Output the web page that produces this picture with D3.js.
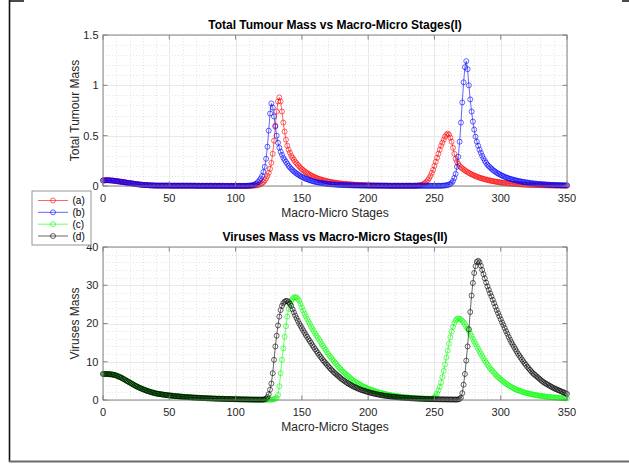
<!DOCTYPE html>
<html>
<head>
<meta charset="utf-8">
<script src="https://cdn.jsdelivr.net/npm/d3@7"></script>
<style>
  html, body { margin: 0; padding: 0; background: #fff; }
  svg { display: block; }
  text { font-family: "Liberation Sans", Arial, Helvetica, sans-serif; }
</style>
</head>
<body>
<div id="chart"></div>
<script>
// Stage values are listed from stage 0 to stage 350, one per stage
const xTicks = [0, 50, 100, 150, 200, 250, 300, 350];
const yTicksTop = [0, 0.5, 1, 1.5];
const yTicksBottom = [0, 10, 20, 30, 40];
const legendLabels = ["(a)", "(b)", "(c)", "(d)"];

// (a) total tumour mass
const tumourA = [
  .055,.056,.057,.057,.057,.056,.055,.054,.053,.051,
  .049,.047,.045,.043,.041,.039,.037,.035,.033,.031,
  .029,.027,.025,.023,.021,.019,.017,.016,.014,.013,
  .012,.011,.010,.009,.008,.007,.006,.006,.005,.005,
  .004,.004,.004,.004,.004,.004,.004,.004,.004,.004,
  .004,.003,.003,.003,.003,.003,.003,.003,.003,.003,
  .003,.003,.003,.003,.003,.003,.003,.003,.003,.003,
  .002,.002,.002,.002,.002,.002,.002,.002,.002,.002,
  .002,.002,.002,.002,.002,.002,.002,.002,.002,.002,
  .001,.001,.001,.001,.001,.001,.001,.001,.001,.001,
  .001,.001,.001,.001,.001,.001,.001,.001,.001,.001,
  .001,.002,.002,.003,.004,.005,.007,.010,.014,.020,
  .028,.040,.055,.075,.10,.13,.17,.23,.32,.45,
  .60,.74,.84,.88,.84,.74,.63,.54,.46,.40,
  .36,.33,.30,.28,.26,.24,.225,.21,.195,.18,
  .168,.157,.147,.137,.128,.12,.112,.105,.098,.092,
  .086,.080,.075,.070,.066,.062,.058,.054,.051,.048,
  .045,.042,.039,.037,.035,.033,.031,.029,.027,.025,
  .024,.022,.021,.020,.019,.018,.017,.016,.015,.014,
  .013,.012,.011,.011,.010,.010,.009,.009,.008,.008,
  .007,.007,.007,.006,.006,.006,.005,.005,.005,.005,
  .004,.004,.004,.004,.004,.003,.003,.003,.003,.003,
  .003,.003,.003,.003,.003,.003,.003,.003,.003,.003,
  .003,.003,.003,.003,.003,.003,.004,.005,.006,.008,
  .011,.015,.020,.030,.042,.058,.078,.10,.13,.16,
  .20,.24,.28,.32,.36,.40,.43,.46,.49,.51,
  .52,.51,.48,.44,.38,.32,.27,.24,.22,.20,
  .185,.175,.165,.155,.146,.138,.13,.123,.116,.11,
  .104,.098,.093,.088,.083,.079,.075,.071,.067,.063,
  .06,.057,.054,.051,.048,.046,.043,.041,.039,.037,
  .035,.033,.031,.03,.028,.027,.025,.024,.023,.022,
  .021,.02,.019,.018,.017,.016,.015,.014,.014,.013,
  .012,.012,.011,.011,.01,.01,.009,.009,.008,.008,
  .008,.007,.007,.007,.006,.006,.006,.005,.005,.005,
  .005,.004,.004,.004,.004,.004,.003,.003,.003,.003,
  .003
];

// (b) total tumour mass
const tumourB = [
  .055,.056,.057,.057,.057,.056,.055,.054,.053,.051,
  .049,.047,.045,.043,.041,.039,.037,.035,.033,.031,
  .029,.027,.025,.023,.021,.019,.017,.016,.014,.013,
  .012,.011,.010,.009,.008,.007,.006,.006,.005,.005,
  .004,.004,.004,.004,.004,.004,.004,.004,.004,.004,
  .004,.003,.003,.003,.003,.003,.003,.003,.003,.003,
  .003,.003,.003,.003,.003,.003,.003,.003,.003,.003,
  .002,.002,.002,.002,.002,.002,.002,.002,.002,.002,
  .002,.002,.002,.002,.002,.002,.002,.002,.002,.002,
  .001,.001,.001,.001,.001,.001,.001,.001,.001,.001,
  .001,.001,.001,.001,.001,.001,.001,.001,.001,.002,
  .003,.004,.006,.009,.013,.019,.027,.04,.055,.075,
  .10,.14,.19,.27,.39,.55,.72,.82,.78,.69,
  .59,.50,.43,.38,.34,.31,.28,.26,.24,.22,
  .20,.185,.17,.157,.145,.134,.124,.115,.106,.098,
  .091,.084,.078,.072,.067,.062,.057,.053,.049,.045,
  .042,.039,.036,.033,.031,.029,.027,.025,.023,.021,
  .02,.018,.017,.016,.015,.014,.013,.012,.011,.01,
  .01,.009,.009,.008,.008,.007,.007,.006,.006,.006,
  .005,.005,.005,.005,.004,.004,.004,.004,.004,.003,
  .003,.003,.003,.003,.003,.003,.003,.003,.003,.003,
  .003,.003,.003,.003,.003,.003,.002,.002,.002,.002,
  .002,.002,.002,.002,.002,.002,.002,.002,.002,.002,
  .002,.002,.002,.002,.002,.002,.002,.002,.002,.002,
  .002,.002,.002,.002,.002,.002,.002,.002,.002,.002,
  .002,.002,.002,.002,.002,.002,.003,.004,.005,.007,
  .01,.014,.02,.03,.05,.08,.12,.19,.29,.44,
  .63,.83,1.03,1.18,1.24,1.16,1.0,.86,.74,.64,
  .56,.49,.44,.40,.36,.33,.30,.275,.25,.23,
  .21,.198,.185,.172,.16,.15,.141,.132,.124,.117,
  .11,.103,.097,.091,.086,.081,.076,.072,.068,.064,
  .06,.057,.054,.051,.048,.045,.043,.04,.038,.036,
  .034,.032,.03,.028,.027,.025,.024,.022,.021,.02,
  .019,.018,.017,.016,.015,.014,.013,.012,.012,.011,
  .01,.01,.009,.009,.008,.008,.007,.007,.007,.006,
  .006
];

// (c) viruses mass
const virusC = [
  6.8,6.8,6.8,6.8,6.8,6.75,6.7,6.65,6.6,6.5,
  6.4,6.25,6.1,5.95,5.8,5.6,5.4,5.2,5.0,4.8,
  4.6,4.4,4.2,4.0,3.8,3.62,3.45,3.28,3.12,2.97,
  2.83,2.69,2.56,2.43,2.31,2.2,2.09,1.99,1.89,1.8,
  1.71,1.65,1.59,1.53,1.48,1.43,1.38,1.33,1.28,1.24,
  1.2,1.16,1.12,1.08,1.04,1.0,0.97,0.94,0.91,0.88,
  0.85,0.82,0.79,0.77,0.74,0.72,0.7,0.67,0.65,0.63,
  0.61,0.59,0.57,0.55,0.53,0.51,0.5,0.48,0.46,0.45,
  0.43,0.42,0.4,0.39,0.38,0.36,0.35,0.34,0.33,0.32,
  0.31,0.3,0.29,0.28,0.27,0.26,0.25,0.24,0.23,0.22,
  0.21,0.2,0.19,0.18,0.17,0.17,0.16,0.15,0.14,0.14,
  0.13,0.12,0.12,0.11,0.11,0.1,0.1,0.1,0.09,0.09,
  0.09,0.09,0.08,0.08,0.08,0.08,0.09,0.1,0.13,0.2,
  0.35,0.6,1.3,3.6,7.0,10.5,13.5,16.5,19.3,21.8,
  23.8,25.0,25.9,26.5,26.8,26.9,26.8,26.4,25.9,25.1,
  24.2,23.4,22.6,21.9,21.2,20.5,19.9,19.2,18.6,18.0,
  17.4,16.8,16.3,15.8,15.2,14.6,14.1,13.6,13.1,12.5,
  12.0,11.5,11.1,10.6,10.2,9.8,9.4,8.9,8.5,8.2,
  7.8,7.4,7.1,6.8,6.5,6.2,5.9,5.6,5.3,5.0,
  4.8,4.6,4.4,4.2,4.0,3.75,3.55,3.4,3.25,3.1,
  2.95,2.8,2.65,2.55,2.45,2.3,2.2,2.1,2.0,1.9,
  1.8,1.72,1.64,1.56,1.48,1.4,1.33,1.26,1.2,1.14,
  1.08,1.03,0.98,0.93,0.88,0.84,0.8,0.76,0.72,0.68,
  0.65,0.62,0.59,0.56,0.53,0.5,0.48,0.46,0.44,0.42,
  0.4,0.38,0.36,0.35,0.34,0.33,0.32,0.32,0.33,0.45,
  0.7,1.1,1.7,2.5,3.4,4.6,6.0,7.6,9.3,11.1,
  12.9,14.7,16.4,17.9,19.1,20.1,20.8,21.2,21.3,21.2,
  21.0,20.7,20.3,19.8,19.2,18.6,18.0,17.3,16.7,16.0,
  15.3,14.7,14.0,13.4,12.7,12.1,11.5,10.9,10.3,9.8,
  9.3,8.8,8.3,7.9,7.5,7.1,6.7,6.3,6.0,5.7,
  5.4,5.1,4.8,4.55,4.3,4.05,3.8,3.6,3.4,3.2,
  3.0,2.85,2.7,2.55,2.42,2.3,2.18,2.07,1.96,1.86,
  1.77,1.68,1.6,1.52,1.45,1.38,1.31,1.25,1.19,1.13,
  1.08,1.03,0.98,0.93,0.89,0.85,0.81,0.77,0.73,0.7,
  0.67,0.64,0.61,0.58,0.55,0.53,0.5,0.48,0.46,0.44,
  0.42
];

// (d) viruses mass
const virusD = [
  6.8,6.8,6.8,6.8,6.8,6.75,6.7,6.65,6.6,6.5,
  6.4,6.25,6.1,5.95,5.8,5.6,5.4,5.2,5.0,4.8,
  4.6,4.4,4.2,4.0,3.8,3.62,3.45,3.28,3.12,2.97,
  2.83,2.69,2.56,2.43,2.31,2.2,2.09,1.99,1.89,1.8,
  1.71,1.65,1.59,1.53,1.48,1.43,1.38,1.33,1.28,1.24,
  1.2,1.16,1.12,1.08,1.04,1.0,0.97,0.94,0.91,0.88,
  0.85,0.82,0.79,0.77,0.74,0.72,0.7,0.67,0.65,0.63,
  0.61,0.59,0.57,0.55,0.53,0.51,0.5,0.48,0.46,0.45,
  0.43,0.42,0.4,0.39,0.38,0.36,0.35,0.34,0.33,0.32,
  0.31,0.3,0.29,0.28,0.27,0.26,0.25,0.24,0.23,0.22,
  0.21,0.2,0.19,0.18,0.17,0.17,0.16,0.15,0.14,0.14,
  0.13,0.12,0.12,0.11,0.11,0.1,0.1,0.1,0.09,0.09,
  0.1,0.12,0.18,0.35,0.75,1.5,2.7,4.3,7.0,10.5,
  14,16.8,19.5,21.8,23.5,24.6,25.3,25.7,25.9,25.9,
  25.6,25.2,24.6,23.7,22.9,22.1,21.4,20.7,20.0,19.4,
  18.8,18.2,17.6,17.0,16.5,15.9,15.4,14.9,14.3,13.8,
  13.3,12.8,12.3,11.8,11.3,10.9,10.4,10.0,9.6,9.2,
  8.8,8.4,8.0,7.7,7.3,7.0,6.7,6.4,6.1,5.8,
  5.5,5.25,5.0,4.75,4.5,4.3,4.1,3.9,3.7,3.5,
  3.35,3.2,3.05,2.9,2.75,2.6,2.5,2.4,2.28,2.17,
  2.07,1.97,1.88,1.79,1.7,1.62,1.54,1.47,1.4,1.33,
  1.27,1.21,1.15,1.1,1.05,1.0,0.95,0.91,0.87,0.83,
  0.79,0.75,0.72,0.69,0.66,0.63,0.6,0.57,0.55,0.52,
  0.5,0.48,0.46,0.44,0.42,0.4,0.38,0.37,0.35,0.34,
  0.32,0.31,0.3,0.28,0.27,0.26,0.25,0.24,0.23,0.22,
  0.21,0.2,0.19,0.19,0.18,0.17,0.17,0.16,0.15,0.15,
  0.14,0.14,0.13,0.13,0.12,0.12,0.12,0.11,0.15,0.3,
  0.6,1.8,4.0,6.8,10.3,14,18.5,23,27.3,30.6,
  33.2,35.0,36.1,36.4,36.0,35.1,34.0,32.9,31.8,30.7,
  29.7,28.8,27.9,27.1,26.2,25.3,24.4,23.5,22.7,21.9,
  21.1,20.3,19.6,18.8,18.0,17.3,16.5,15.8,15.1,14.5,
  13.9,13.3,12.7,12.1,11.6,11.1,10.6,10.1,9.6,9.2,
  8.7,8.3,7.9,7.5,7.1,6.8,6.5,6.2,5.9,5.6,
  5.3,5.0,4.75,4.5,4.3,4.1,3.9,3.7,3.5,3.3,
  3.1,2.95,2.8,2.65,2.5,2.35,2.2,2.05,1.9,1.75,
  1.6
];

const width = 629, height = 464;
const svg = d3.select("#chart").append("svg")
    .attr("width", width)
    .attr("height", height);

// outer frame of the figure window
svg.append("path")
    .attr("d", "M9.5,462V0M9,1H24M622,1H629")
    .attr("fill", "none")
    .attr("stroke", "#111")
    .attr("stroke-width", 1.6);
svg.append("line")
    .attr("x1", 9).attr("x2", 629).attr("y1", 461.5).attr("y2", 461.5)
    .attr("stroke", "#6b6b6b").attr("stroke-width", 2);

const x = d3.scaleLinear().domain([0, 350]).range([103, 567]);

function drawPanel(p) {
    const y = d3.scaleLinear().domain(p.yDomain).range([p.bottom, p.top]);
    const g = svg.append("g");

    // minor grid (dotted)
    const xMinor = d3.range(0, 351, 10).filter(v => v % 50 !== 0);
    const yMinor = d3.range(p.yDomain[0], p.yDomain[1] + 1e-9, p.minor)
        .filter(v => !p.yTicks.some(t => Math.abs(t - v) < 1e-9));
    g.selectAll(".xminor").data(xMinor).join("line")
        .attr("x1", d => Math.round(x(d)) + 0.5).attr("x2", d => Math.round(x(d)) + 0.5)
        .attr("y1", p.top).attr("y2", p.bottom)
        .attr("stroke", "#d4d4d4").attr("stroke-width", 0.6).attr("stroke-dasharray", "1,2");
    g.selectAll(".yminor").data(yMinor).join("line")
        .attr("x1", x(0)).attr("x2", x(350))
        .attr("y1", d => Math.round(y(d)) + 0.5).attr("y2", d => Math.round(y(d)) + 0.5)
        .attr("stroke", "#d4d4d4").attr("stroke-width", 0.6).attr("stroke-dasharray", "1,2");

    // major grid
    g.selectAll(".xgrid").data(xTicks).join("line")
        .attr("x1", d => Math.round(x(d)) + 0.5).attr("x2", d => Math.round(x(d)) + 0.5)
        .attr("y1", p.top).attr("y2", p.bottom)
        .attr("stroke", "#e3e3e3").attr("stroke-width", 0.8);
    g.selectAll(".ygrid").data(p.yTicks).join("line")
        .attr("x1", x(0)).attr("x2", x(350))
        .attr("y1", d => Math.round(y(d)) + 0.5).attr("y2", d => Math.round(y(d)) + 0.5)
        .attr("stroke", "#e3e3e3").attr("stroke-width", 0.8);

    // data series, line plus open circle markers
    p.series.forEach(s => {
        const pts = s.values.map((v, i) => [i, v]);
        g.append("path")
            .datum(pts)
            .attr("fill", "none")
            .attr("stroke", s.color)
            .attr("stroke-width", 0.6)
            .attr("d", d3.line().x(d => x(d[0])).y(d => y(d[1])));
        g.append("g").selectAll("circle").data(pts).join("circle")
            .attr("cx", d => x(d[0]))
            .attr("cy", d => y(d[1]))
            .attr("r", 2.5)
            .attr("fill", "none")
            .attr("stroke", s.color)
            .attr("stroke-width", 0.6);
    });

    // axes box with inward ticks on all sides
    const axisColor = "#7a7a7a";
    g.append("rect")
        .attr("x", x(0)).attr("y", p.top)
        .attr("width", x(350) - x(0)).attr("height", p.bottom - p.top)
        .attr("fill", "none").attr("stroke", axisColor).attr("stroke-width", 0.9);
    const tl = 4.6;
    g.selectAll(".xtick").data(xTicks).join("path")
        .attr("d", d => `M${x(d)},${p.bottom}v${-tl}M${x(d)},${p.top}v${tl}`)
        .attr("stroke", axisColor).attr("stroke-width", 0.9);
    g.selectAll(".ytick").data(p.yTicks).join("path")
        .attr("d", d => `M${x(0)},${y(d)}h${tl}M${x(350)},${y(d)}h${-tl}`)
        .attr("stroke", axisColor).attr("stroke-width", 0.9);

    // tick labels
    g.selectAll(".xlab").data(xTicks).join("text")
        .attr("x", d => x(d)).attr("y", p.bottom + 15.5)
        .attr("text-anchor", "middle")
        .attr("font-size", 11).attr("fill", "#262626")
        .text(d => d);
    g.selectAll(".ylab").data(p.yTicks).join("text")
        .attr("x", 98.5).attr("y", d => y(d))
        .attr("dy", "0.35em")
        .attr("text-anchor", "end")
        .attr("font-size", 11).attr("fill", "#262626")
        .text(d => d);

    // title and axis labels
    g.append("text")
        .attr("x", 335).attr("y", p.top - 6)
        .attr("text-anchor", "middle")
        .attr("font-size", 12).attr("font-weight", "bold").attr("fill", "#000")
        .text(p.title);
    g.append("text")
        .attr("x", 335).attr("y", p.bottom + 30.5)
        .attr("text-anchor", "middle")
        .attr("font-size", 12).attr("fill", "#262626")
        .text("Macro-Micro Stages");
    g.append("text")
        .attr("transform", `translate(79,${(p.top + p.bottom) / 2}) rotate(-90)`)
        .attr("text-anchor", "middle")
        .attr("font-size", 12).attr("fill", "#262626")
        .text(p.ylabel);
}

drawPanel({
    top: 35, bottom: 186, yDomain: [0, 1.5], yTicks: yTicksTop, minor: 0.1,
    title: "Total Tumour Mass vs Macro-Micro Stages(I)",
    ylabel: "Total Tumour Mass",
    series: [{values: tumourA, color: "#ff0000"}, {values: tumourB, color: "#0000ff"}]
});
drawPanel({
    top: 247, bottom: 400, yDomain: [0, 40], yTicks: yTicksBottom, minor: 2,
    title: "Viruses Mass vs Macro-Micro Stages(II)",
    ylabel: "Viruses Mass",
    series: [{values: virusC, color: "#00ff00"}, {values: virusD, color: "#000000"}]
});

// legend
const legendColors = ["#ff0000", "#0000ff", "#00ff00", "#000000"];
const legend = svg.append("g");
legend.append("rect")
    .attr("x", 32).attr("y", 191).attr("width", 59).attr("height", 54)
    .attr("fill", "#fff").attr("stroke", "#8a8a8a").attr("stroke-width", 0.9);
const ly = d3.scalePoint().domain(legendLabels).range([200.5, 236]);
legendLabels.forEach((lab, i) => {
    const yy = ly(lab);
    legend.append("line")
        .attr("x1", 38).attr("x2", 68).attr("y1", yy).attr("y2", yy)
        .attr("stroke", legendColors[i]).attr("stroke-width", 0.6);
    legend.append("circle")
        .attr("cx", 53).attr("cy", yy).attr("r", 2.5)
        .attr("fill", "none").attr("stroke", legendColors[i]).attr("stroke-width", 0.6);
    legend.append("text")
        .attr("x", 72.5).attr("y", yy).attr("dy", "0.35em")
        .attr("font-size", 10).attr("fill", "#000")
        .text(lab);
});
</script>
</body>
</html>
